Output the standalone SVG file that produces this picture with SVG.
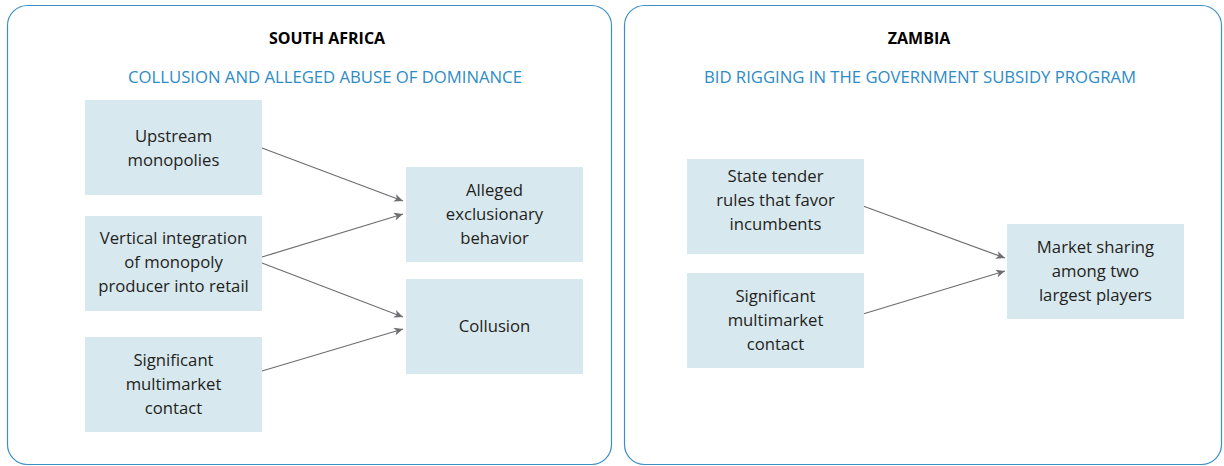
<svg xmlns="http://www.w3.org/2000/svg" width="1224" height="466" viewBox="0 0 1224 466">
<defs>
<style>
.panel{fill:#ffffff;stroke:#3b8fc4;stroke-width:1.2}
.box{fill:#d8e8ef}
.t{font-family:"Open Sans","Liberation Sans",sans-serif;font-size:16.7px;fill:#231f20;text-anchor:middle}
.h{font-family:"Open Sans","Liberation Sans",sans-serif;font-size:16px;font-weight:bold;fill:#000;text-anchor:middle}
.s{font-family:"Open Sans","Liberation Sans",sans-serif;font-size:16.7px;fill:#2e8bc6;text-anchor:middle}
.c{stroke:#6d6e71;stroke-width:1.2;fill:none;marker-end:url(#ah)}
</style>
<marker id="ah" markerWidth="10" markerHeight="8" refX="9" refY="4" orient="auto" markerUnits="userSpaceOnUse">
<path d="M0,0 L9,4 L0,8 L2.5,4 Z" fill="#6d6e71"/>
</marker>
</defs>
<rect id="panel-sa" class="panel" x="7.5" y="5.5" width="604" height="459" rx="20"/>
<rect id="panel-zm" class="panel" x="624.5" y="5.5" width="597" height="459" rx="20"/>
<text class="h" x="327" y="44">SOUTH AFRICA</text>
<text class="s" x="325" y="83">COLLUSION AND ALLEGED ABUSE OF DOMINANCE</text>
<text class="h" x="919" y="44">ZAMBIA</text>
<text class="s" x="920" y="83">BID RIGGING IN THE GOVERNMENT SUBSIDY PROGRAM</text>
<g id="connectors">
<line class="c" x1="262" y1="148" x2="403" y2="201"/>
<line class="c" x1="262" y1="257" x2="403" y2="214"/>
<line class="c" x1="262" y1="263" x2="403" y2="317"/>
<line class="c" x1="262" y1="371" x2="403" y2="329"/>
<line class="c" x1="863" y1="206" x2="1005" y2="258"/>
<line class="c" x1="863" y1="314" x2="1005" y2="271"/>
</g>
<g id="n-upstream"><rect class="box" x="85" y="100" width="177" height="95"/><text class="t" x="173.5" y="142">Upstream</text><text class="t" x="173.5" y="166">monopolies</text></g>
<g id="n-vertical"><rect class="box" x="85" y="216" width="177" height="95"/><text class="t" x="173.5" y="244">Vertical integration</text><text class="t" x="173.5" y="268">of monopoly</text><text class="t" x="173.5" y="292">producer into retail</text></g>
<g id="n-sig-sa"><rect class="box" x="85" y="337" width="177" height="95"/><text class="t" x="173.5" y="366">Significant</text><text class="t" x="173.5" y="390">multimarket</text><text class="t" x="173.5" y="414">contact</text></g>
<g id="n-alleged"><rect class="box" x="406" y="167" width="177" height="95"/><text class="t" x="494.5" y="196">Alleged</text><text class="t" x="494.5" y="220">exclusionary</text><text class="t" x="494.5" y="244">behavior</text></g>
<g id="n-collusion"><rect class="box" x="406" y="279" width="177" height="95"/><text class="t" x="494.5" y="332">Collusion</text></g>
<g id="n-state"><rect class="box" x="687" y="159" width="177" height="95"/><text class="t" x="775.5" y="182">State tender</text><text class="t" x="775.5" y="206">rules that favor</text><text class="t" x="775.5" y="230">incumbents</text></g>
<g id="n-sig-zm"><rect class="box" x="687" y="273" width="177" height="95"/><text class="t" x="775.5" y="302">Significant</text><text class="t" x="775.5" y="326">multimarket</text><text class="t" x="775.5" y="350">contact</text></g>
<g id="n-market"><rect class="box" x="1007" y="224" width="177" height="95"/><text class="t" x="1095.5" y="253">Market sharing</text><text class="t" x="1095.5" y="277">among two</text><text class="t" x="1095.5" y="301">largest players</text></g>
</svg>
